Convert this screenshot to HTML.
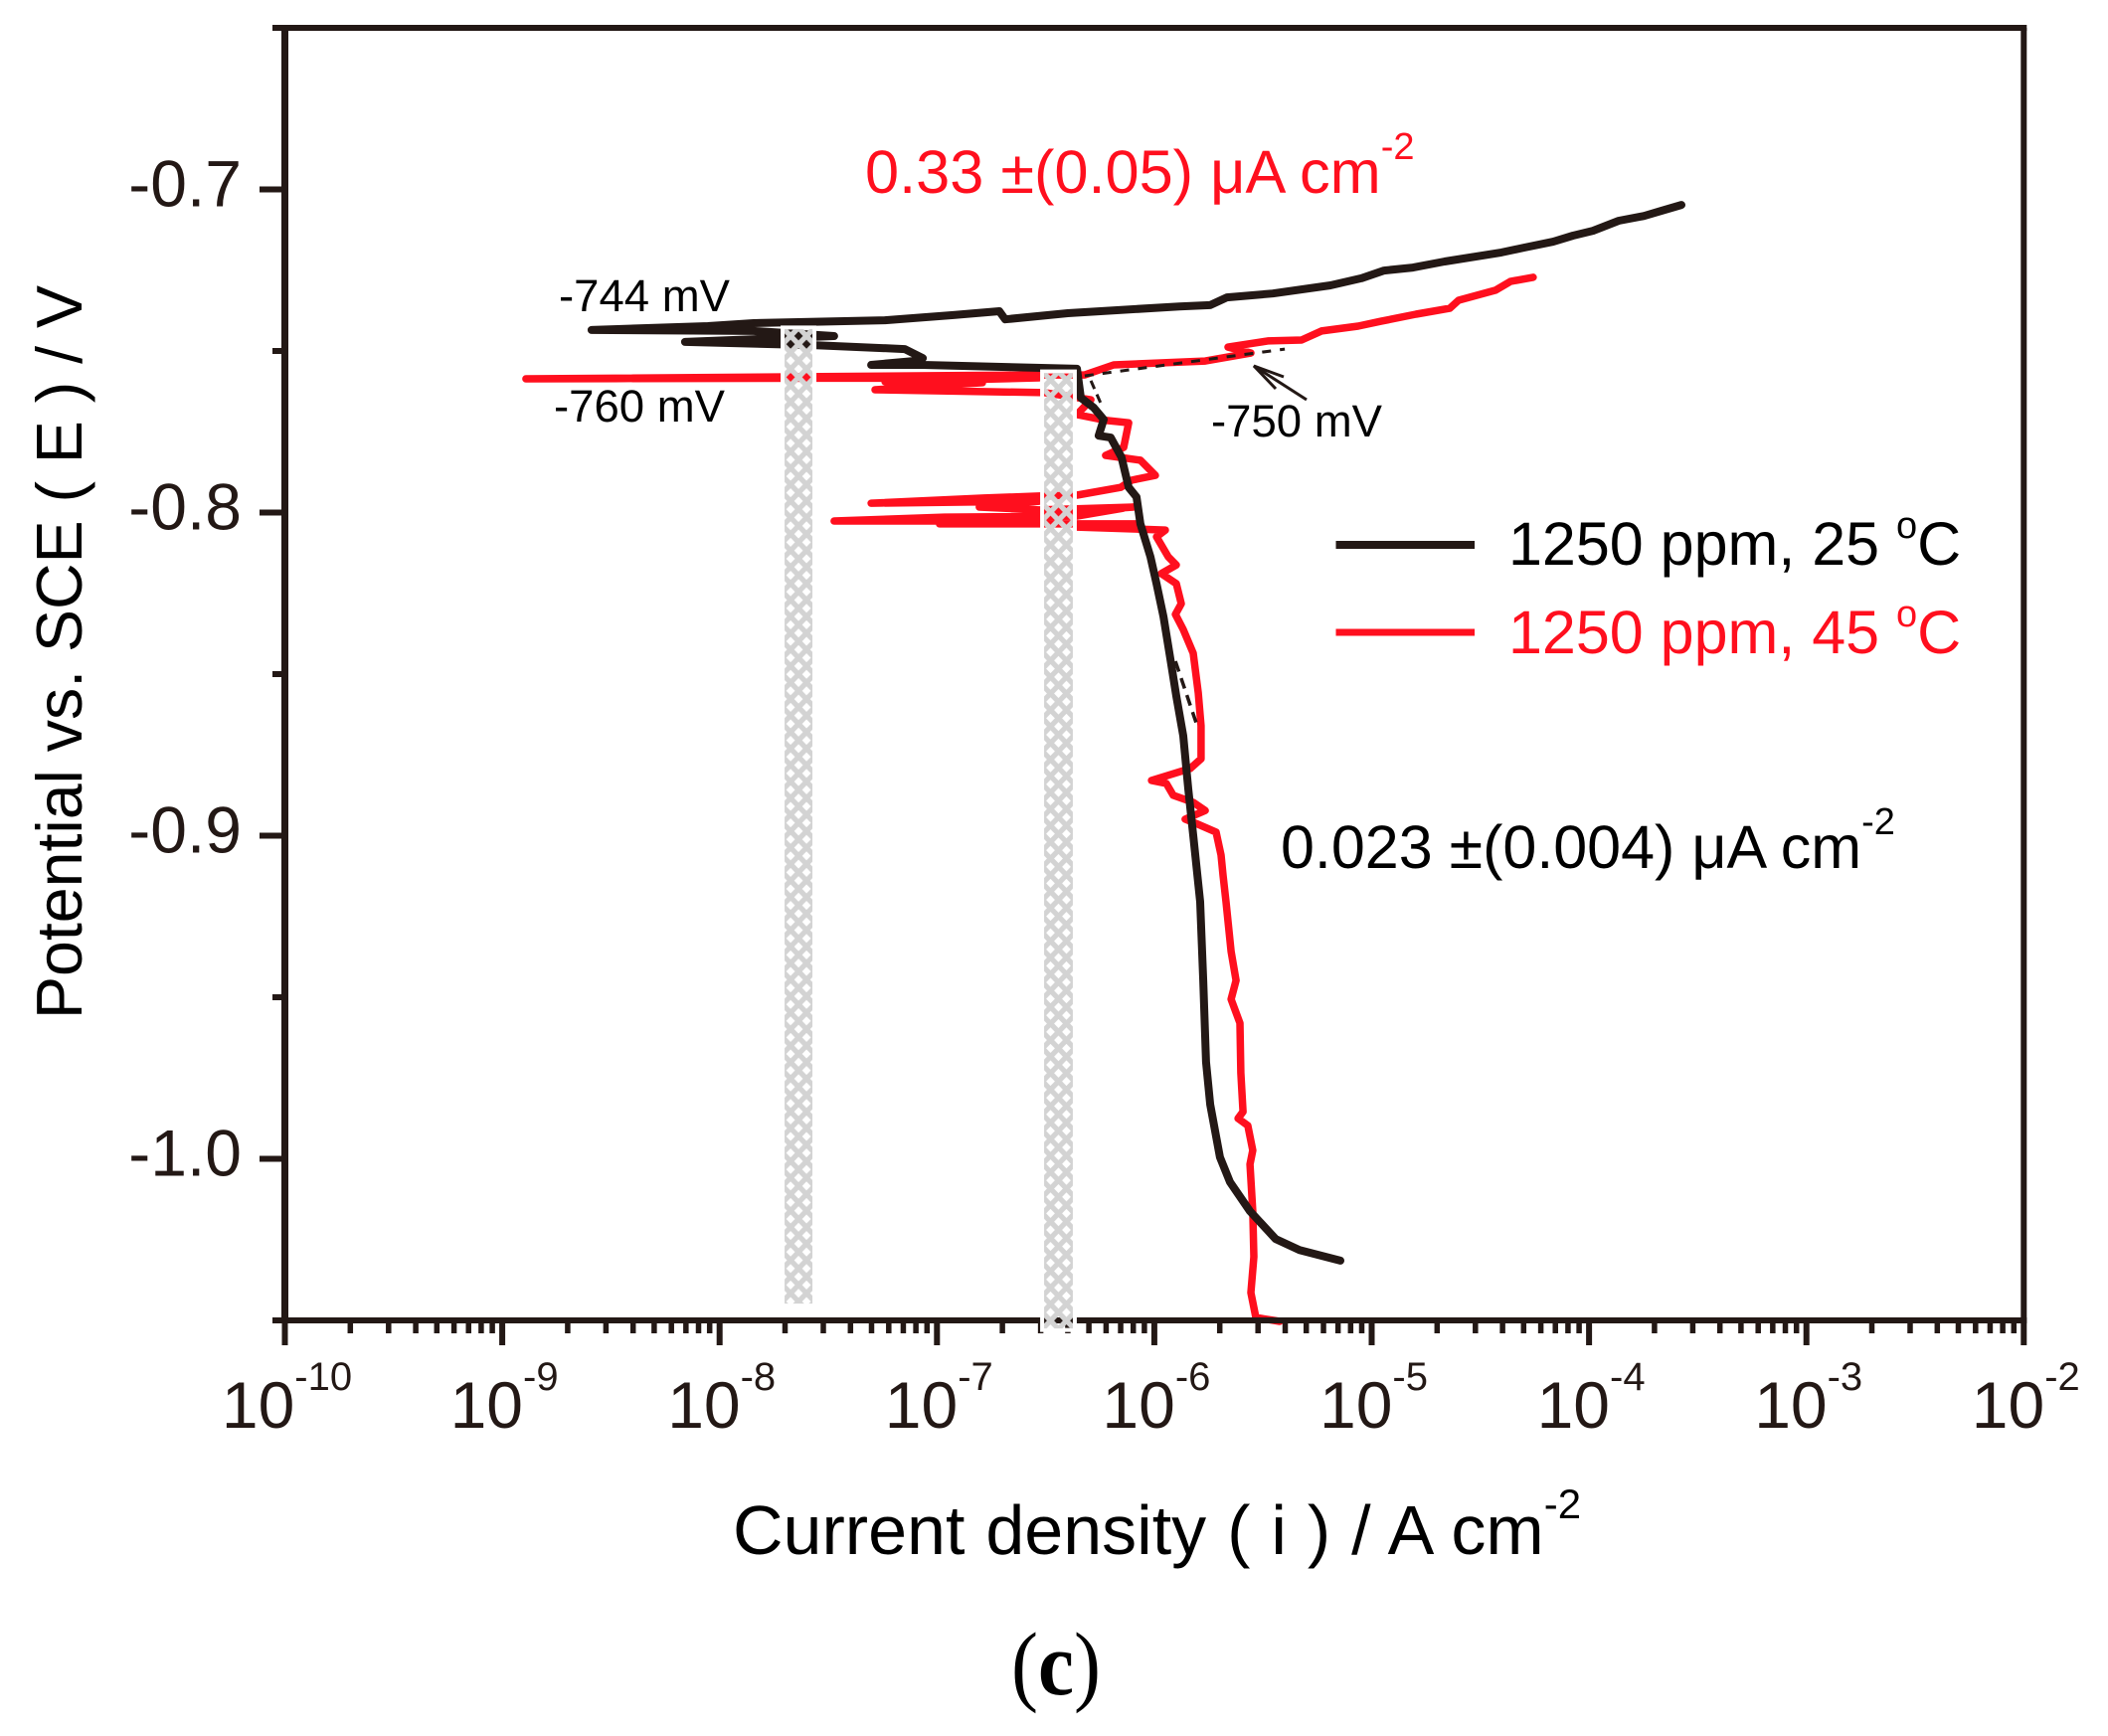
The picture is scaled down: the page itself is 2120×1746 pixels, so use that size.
<!DOCTYPE html>
<html lang="en">
<head>
<meta charset="utf-8">
<title>Potentiodynamic polarization curves</title>
<style>
  html, body { margin: 0; padding: 0; background: #fff; }
  body { width: 2120px; height: 1746px; overflow: hidden; }
  svg { display: block; }
  text { font-family: "Liberation Sans", sans-serif; fill: #231815; }
</style>
</head>
<body>
<svg id="chart" xmlns="http://www.w3.org/2000/svg" width="2120" height="1746" viewBox="0 0 2120 1746">
  <rect x="0" y="0" width="2120" height="1746" fill="#ffffff"/>
  <g id="series-layer"></g>
  <g id="axes-layer"></g>
  <g id="band-layer"></g>

  <text x="737" y="1563" font-size="70" word-spacing="1.5" style="fill:#000">Current density ( i ) / A cm<tspan font-size="42" dy="-36">-2</tspan></text>
  <text transform="translate(82 1025) rotate(-90)" x="0" y="0" font-size="65" textLength="738" lengthAdjust="spacingAndGlyphs" style="fill:#000">Potential vs. SCE ( E ) / V</text>

  <text x="870" y="194" font-size="61.3" style="fill:#ff0f1e">0.33 ±(0.05) <tspan>μ</tspan>A cm<tspan font-size="38" dy="-34">-2</tspan></text>
  <text x="1288" y="873" font-size="61" style="fill:#000">0.023 ±(0.004) <tspan>μ</tspan>A cm<tspan font-size="38" dy="-34">-2</tspan></text>

  <text x="562" y="313" font-size="45.5" style="fill:#000">-744 mV</text>
  <text x="557" y="424" font-size="45.5" style="fill:#000">-760 mV</text>
  <text x="1218" y="439" font-size="45.5" style="fill:#000">-750 mV</text>

  <g fill="none" stroke="#231815" stroke-width="3">
    <path d="M1314 402 L1261 368"/>
    <path d="M1291 379 L1261 368 L1283 391"/>
  </g>

  <g>
    <rect x="1343.5" y="544" width="139.5" height="8" fill="#231815"/>
    <text x="1517" y="568" font-size="61" style="fill:#000">1250 ppm, 25 <tspan font-size="38" dy="-27">o</tspan><tspan dy="27">C</tspan></text>
    <rect x="1343.5" y="632.5" width="139.5" height="7" fill="#ff0f1e"/>
    <text x="1517" y="657" font-size="61" style="fill:#ff0f1e">1250 ppm, 45 <tspan font-size="38" dy="-27" style="fill:#ff0f1e">o</tspan><tspan dy="27" style="fill:#ff0f1e">C</tspan></text>
  </g>

  <text x="1062" y="1704" font-size="90" text-anchor="middle" textLength="90" lengthAdjust="spacingAndGlyphs" style="font-family:'Liberation Serif',serif;fill:#000">(<tspan font-weight="bold">c</tspan>)</text>
</svg>

<script>
// ---- data: log10(current density / A cm-2) and potential / V ----
const blackLogI = [-3.575,-3.667,-3.747,-3.863,-3.982,-4.074,-4.165,-4.298,-4.403,-4.664,-4.810,-4.943,-5.048,-5.190,-5.455,-5.666,-5.743,-5.885,-6.398,-6.686,-6.713,-6.924,-7.239,-7.843,-8.054,-8.589,-7.843,-7.473,-8.159,-7.555,-7.148,-7.065,-7.107,-7.303,-7.065,-6.356,-6.338,-6.279,-6.233,-6.256,-6.201,-6.151,-6.118,-6.082,-6.064,-6.018,-5.990,-5.958,-5.926,-5.899,-5.867,-5.844,-5.821,-5.789,-5.775,-5.762,-5.743,-5.698,-5.652,-5.560,-5.442,-5.332,-5.144];
const blackE = [-0.7048,-0.7066,-0.7082,-0.7097,-0.7128,-0.7143,-0.7162,-0.7180,-0.7195,-0.7223,-0.7242,-0.7251,-0.7275,-0.7297,-0.7322,-0.7334,-0.7358,-0.7362,-0.7383,-0.7402,-0.7377,-0.7389,-0.7405,-0.7414,-0.7423,-0.7435,-0.7438,-0.7454,-0.7472,-0.7482,-0.7494,-0.7522,-0.7531,-0.7543,-0.7543,-0.7555,-0.7645,-0.7675,-0.7712,-0.7762,-0.7768,-0.7829,-0.7922,-0.7952,-0.8035,-0.8137,-0.8220,-0.8322,-0.8454,-0.8568,-0.8691,-0.8854,-0.8998,-0.9205,-0.9448,-0.9700,-0.9832,-0.9995,-1.0072,-1.0162,-1.0248,-1.0282,-1.0315];

const redLogI = [-4.257,-4.362,-4.430,-4.600,-4.641,-4.796,-4.957,-5.062,-5.231,-5.323,-5.478,-5.661,-5.556,-5.766,-6.187,-6.320,-6.530,-8.891,-6.530,-7.239,-6.791,-7.285,-6.503,-6.292,-6.356,-6.219,-6.118,-6.141,-6.224,-6.064,-5.995,-6.105,-6.155,-6.356,-6.530,-6.782,-7.303,-6.530,-6.805,-6.530,-6.096,-6.356,-6.141,-6.356,-6.965,-7.473,-6.530,-6.988,-6.082,-6.356,-5.949,-5.990,-5.936,-5.899,-5.968,-5.899,-5.876,-5.903,-5.867,-5.821,-5.798,-5.785,-5.785,-5.835,-6.013,-5.945,-5.913,-5.821,-5.766,-5.858,-5.808,-5.716,-5.693,-5.684,-5.670,-5.647,-5.624,-5.647,-5.606,-5.602,-5.592,-5.615,-5.570,-5.547,-5.560,-5.547,-5.542,-5.556,-5.533,-5.423];
const redE = [-0.7272,-0.7285,-0.7312,-0.7343,-0.7368,-0.7386,-0.7408,-0.7423,-0.7438,-0.7466,-0.7469,-0.7488,-0.7506,-0.7531,-0.7543,-0.7574,-0.7574,-0.7586,-0.7583,-0.7595,-0.7598,-0.7620,-0.7629,-0.7651,-0.7697,-0.7715,-0.7722,-0.7798,-0.7823,-0.7838,-0.7885,-0.7900,-0.7922,-0.7946,-0.7949,-0.7955,-0.7971,-0.7965,-0.7983,-0.7992,-0.7983,-0.7995,-0.7986,-0.8011,-0.8014,-0.8026,-0.8026,-0.8035,-0.8035,-0.8045,-0.8054,-0.8075,-0.8137,-0.8162,-0.8189,-0.8220,-0.8282,-0.8315,-0.8362,-0.8435,-0.8558,-0.8660,-0.8762,-0.8792,-0.8829,-0.8838,-0.8875,-0.8897,-0.8922,-0.8949,-0.8962,-0.8989,-0.9060,-0.9122,-0.9205,-0.9358,-0.9448,-0.9506,-0.9580,-0.9734,-0.9854,-0.9875,-0.9897,-0.9974,-1.0017,-1.0162,-1.0303,-1.0414,-1.0491,-1.0503];

const anodicTafelLogI = [-6.320,-5.400];
const anodicTafelE = [-0.7577,-0.7494];
const upperCathodicTafelLogI = [-6.292,-6.242];
const upperCathodicTafelE = [-0.7592,-0.7669];
const lowerCathodicTafelLogI = [-5.903,-5.803];
const lowerCathodicTafelE = [-0.8460,-0.8660];

const bandLogLow = [-7.701,-6.507];
const bandLogHigh = [-7.573,-6.375];
const bandETop = [-0.7432,-0.7568];
const bandEBottom = [-1.0448,-1.0525];
const bandNames = ['hatched-band-left','hatched-band-right'];

const xTickExponents = [-10,-9,-8,-7,-6,-5,-4,-3,-2];
const xTickLabels = ['-10','-9','-8','-7','-6','-5','-4','-3','-2'];
const xMinorMultipliers = [2,3,4,5,6,7,8,9];
const yMajorTicks = [-0.7,-0.8,-0.9,-1.0];
const yMajorLabels = ['-0.7','-0.8','-0.9','-1.0'];
const yMinorTicks = [-0.65,-0.75,-0.85,-0.95,-1.05];

// ---- axis functions ----
const INK = '#231815';
const RED = '#ff0f1e';
const X_LEFT = 286.5, X_PER_DECADE = 218.6;
const Y_TOP = 190.5, Y_PER_VOLT = 3250;
function xAxis(logI) { return X_LEFT + (logI + 10) * X_PER_DECADE; }
function yAxis(E) { return Y_TOP + (-0.7 - E) * Y_PER_VOLT; }

const NS = 'http://www.w3.org/2000/svg';
const seriesLayer = document.getElementById('series-layer');
const axesLayer = document.getElementById('axes-layer');
const bandLayer = document.getElementById('band-layer');

function pathFrom(logs, pots) {
  let d = '';
  for (let k = 0; k < logs.length; k++) {
    d += (k ? 'L' : 'M') + xAxis(logs[k]).toFixed(1) + ' ' + yAxis(pots[k]).toFixed(1) + ' ';
  }
  return d;
}

function drawSeries(name, logs, pots, color, width, dash) {
  const p = document.createElementNS(NS, 'path');
  
  
  p.setAttribute('d', pathFrom(logs, pots));
  p.setAttribute('fill', 'none');
  p.setAttribute('stroke', color);
  p.setAttribute('stroke-width', width);
  p.setAttribute('stroke-linejoin', 'round');
  p.setAttribute('stroke-linecap', dash ? 'butt' : 'round');
  if (dash) p.setAttribute('stroke-dasharray', dash);
  seriesLayer.appendChild(p);
}

drawSeries('series-1250ppm-45c', redLogI, redE, RED, 7.5);
drawSeries('series-1250ppm-25c', blackLogI, blackE, INK, 8);
drawSeries('tafel-fit-anodic', anodicTafelLogI, anodicTafelE, INK, 3, '9 9');
drawSeries('tafel-fit-upper-cathodic', upperCathodicTafelLogI, upperCathodicTafelE, INK, 3, '9 6');
drawSeries('tafel-fit-lower-cathodic', lowerCathodicTafelLogI, lowerCathodicTafelE, INK, 3.5, '11 7');

function axisRect(name, x, y, w, h) {
  const r = document.createElementNS(NS, 'rect');
  
  
  r.setAttribute('x', x);
  r.setAttribute('y', y);
  r.setAttribute('width', w);
  r.setAttribute('height', h);
  r.setAttribute('fill', INK);
  axesLayer.appendChild(r);
}

const xRightEdge = xAxis(xTickExponents[xTickExponents.length - 1]);
const yTopEdge = yAxis(yMinorTicks[0]);
const yBottomEdge = yAxis(yMinorTicks[yMinorTicks.length - 1]);

axisRect('left-axis-line', X_LEFT - 3.5, yTopEdge, 7, yBottomEdge - yTopEdge);
axisRect('right-axis-line', xRightEdge - 3, yTopEdge, 6, yBottomEdge - yTopEdge);
axisRect('top-axis-line', X_LEFT - 12.5, yTopEdge - 3, xRightEdge - X_LEFT + 15.5, 6);
axisRect('bottom-axis-line', X_LEFT - 12.5, yBottomEdge - 3, xRightEdge - X_LEFT + 15.5, 6);

xTickExponents.forEach(function (exp, i) {
  const tx = xAxis(exp);
  axisRect('x-major-tick', tx - 3, yBottomEdge, 6, 25);
  const label = document.createElementNS(NS, 'text');
  
  
  label.setAttribute('x', tx + 2);
  label.setAttribute('y', 1436);
  label.setAttribute('text-anchor', 'middle');
  label.setAttribute('font-size', '66');
  label.appendChild(document.createTextNode('10'));
  const sup = document.createElementNS(NS, 'tspan');
  sup.setAttribute('font-size', '40');
  sup.setAttribute('dy', '-38');
  sup.textContent = xTickLabels[i];
  label.appendChild(sup);
  axesLayer.appendChild(label);
  if (i < xTickExponents.length - 1) {
    xMinorMultipliers.forEach(function (m) {
      axisRect('x-minor-tick', xAxis(exp + Math.log10(m)) - 2.75, yBottomEdge, 5.5, 13);
    });
  }
});

yMajorTicks.forEach(function (v, i) {
  const ty = yAxis(v);
  axisRect('y-major-tick', X_LEFT - 25.5, ty - 3, 25.5, 6);
  const label = document.createElementNS(NS, 'text');
  
  
  label.setAttribute('x', 243);
  label.setAttribute('y', ty + 17);
  label.setAttribute('text-anchor', 'end');
  label.setAttribute('font-size', '66');
  label.textContent = yMajorLabels[i];
  axesLayer.appendChild(label);
});

yMinorTicks.forEach(function (v) {
  axisRect('y-minor-tick', X_LEFT - 12.5, yAxis(v) - 3, 12.5, 6);
});

// ---- hatched bands: opaque white halo, lattice with see-through diamonds ----
const defs = document.createElementNS(NS, 'defs');
bandLayer.appendChild(defs);
bandNames.forEach(function (name, i) {
  const x0 = xAxis(bandLogLow[i]);
  const x1 = xAxis(bandLogHigh[i]);
  const y0 = yAxis(bandETop[i]);
  const y1 = yAxis(bandEBottom[i]);

  const pat = document.createElementNS(NS, 'pattern');
  pat.setAttribute('id', 'lattice-' + i);
  pat.setAttribute('patternUnits', 'userSpaceOnUse');
  pat.setAttribute('width', '16');
  pat.setAttribute('height', '16.6');
  pat.setAttribute('patternTransform', 'translate(' + ((x0 + x1) / 2).toFixed(1) + ' ' + (y0 + 7).toFixed(1) + ')');
  const cell = document.createElementNS(NS, 'path');
  cell.setAttribute('d', 'M0 0H16V16.6H0Z M8 3.8L12.4 8.3L8 12.8L3.6 8.3Z M0 0V4.5L4.4 0Z M16 0H11.6L16 4.5Z M0 16.6H4.4L0 12.1Z M16 16.6V12.1L11.6 16.6Z');
  cell.setAttribute('fill-rule', 'evenodd');
  cell.setAttribute('fill', '#d3d3d3');
  pat.appendChild(cell);
  defs.appendChild(pat);

  const halo = document.createElementNS(NS, 'rect');
  
  
  halo.setAttribute('x', x0 - 2);
  halo.setAttribute('y', y0 - 1.5);
  halo.setAttribute('width', x1 - x0 + 4);
  halo.setAttribute('height', y1 - y0 + 3);
  halo.setAttribute('fill', 'none');
  halo.setAttribute('stroke', '#ffffff');
  halo.setAttribute('stroke-width', '4');
  bandLayer.appendChild(halo);

  const band = document.createElementNS(NS, 'rect');
  
  
  band.setAttribute('x', x0);
  band.setAttribute('y', y0);
  band.setAttribute('width', x1 - x0);
  band.setAttribute('height', y1 - y0);
  band.setAttribute('fill', 'url(#lattice-' + i + ')');
  bandLayer.appendChild(band);
});
</script>
</body>
</html>
